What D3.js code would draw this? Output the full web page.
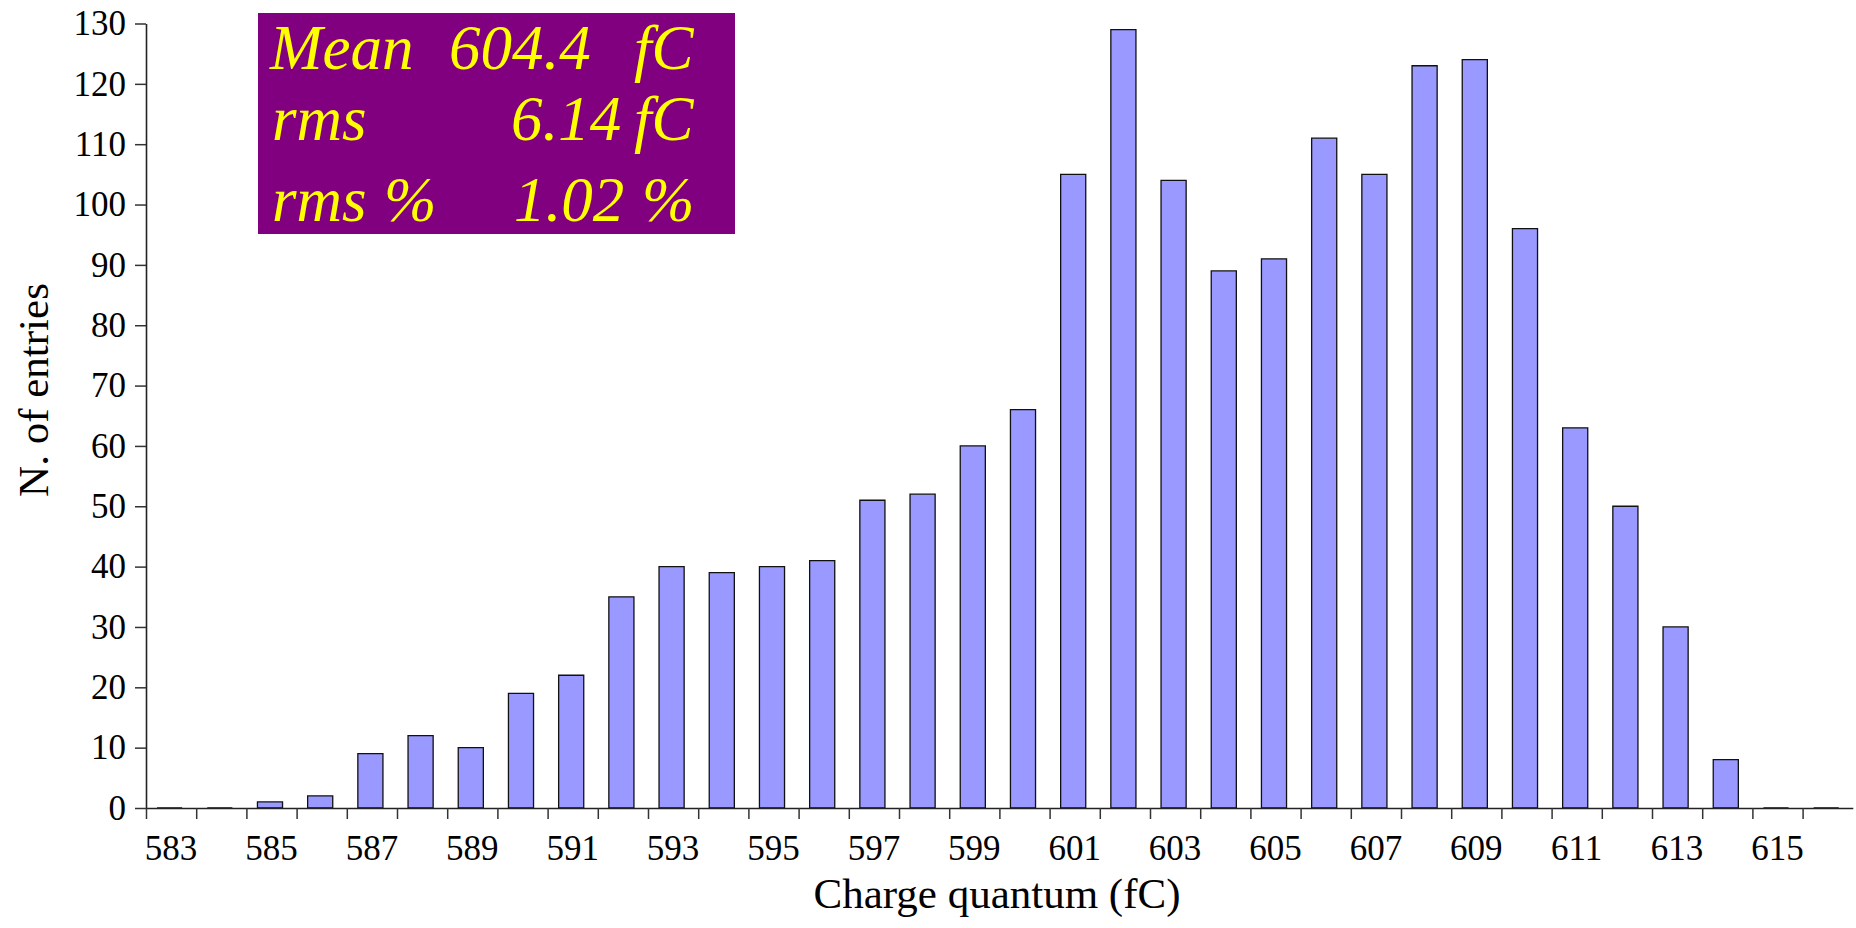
<!DOCTYPE html>
<html>
<head>
<meta charset="utf-8">
<script src="https://cdn.jsdelivr.net/npm/d3@7/dist/d3.min.js"></script>
<style>
  html, body { margin: 0; padding: 0; background: #fff; }
  svg { display: block; }
  text { font-family: "Liberation Serif", "Times New Roman", serif; }
</style>
</head>
<body>
<svg id="chart" width="1856" height="928"></svg>
<script>
// Charge quantum bins (fC) and number of entries per bin
const bins = [583, 584, 585, 586, 587, 588, 589, 590, 591, 592, 593, 594, 595, 596, 597, 598, 599,
              600, 601, 602, 603, 604, 605, 606, 607, 608, 609, 610, 611, 612, 613, 614, 615, 616];
const entries = [0, 0, 1, 2, 9, 12, 10, 19, 22, 35, 40, 39, 40, 41, 51, 52, 60,
                 66, 105, 129, 104, 89, 91, 111, 105, 123, 124, 96, 63, 50, 30, 8, 0, 0];
const xTickLabels = [583, 585, 587, 589, 591, 593, 595, 597, 599, 601, 603, 605, 607, 609, 611, 613, 615];
const yTicks = [0, 10, 20, 30, 40, 50, 60, 70, 80, 90, 100, 110, 120, 130];

// Summary statistics box
const statRows = [
  ["Mean", "604.4", "fC"],
  ["rms", "6.14", "fC"],
  ["rms %", "1.02", "%"]
];

const svg = d3.select("#chart");
const plotLeft = 146, plotRight = 1852.8, plotTop = 23.5, plotBottom = 808;

const x = d3.scaleBand().domain(bins).range([plotLeft, plotRight]).padding(0);
const y = d3.scaleLinear().domain([0, 130]).range([plotBottom, plotTop]);
const bw = x.bandwidth();

// Bars (paths so that empty bins still show their outline on the axis)
svg.append("g").selectAll("path")
  .data(bins.map((b, i) => ({ b, v: entries[i] })))
  .join("path")
  .attr("d", d => {
    const x0 = x(d.b) + bw * 0.22, x1 = x0 + bw * 0.5;
    return `M${x0},${y(0)}V${y(d.v)}H${x1}V${y(0)}Z`;
  })
  .attr("fill", "#9999ff")
  .attr("stroke", "#111")
  .attr("stroke-width", 1.3);

// Y axis
const yAxis = svg.append("g")
  .attr("transform", `translate(${plotLeft},0)`)
  .call(d3.axisLeft(y).tickValues(yTicks).tickSize(11).tickSizeOuter(0).tickPadding(9));
yAxis.selectAll("text").attr("font-size", 35).attr("fill", "#000")
  .attr("font-family", "Liberation Serif, serif");
yAxis.select(".domain").attr("stroke", "#222").attr("stroke-width", 1.6);
yAxis.selectAll(".tick line").attr("stroke", "#333").attr("stroke-width", 1.5);

// X axis: baseline, bin boundary ticks and labels under odd bins
const xEdge = d3.scaleLinear().domain([583, 617]).range([plotLeft, plotRight]);
const xAxisTicks = svg.append("g")
  .attr("transform", `translate(0,${plotBottom})`)
  .call(d3.axisBottom(xEdge).tickValues(d3.range(583, 617)).tickSize(11).tickSizeOuter(0).tickFormat(""));
xAxisTicks.select(".domain").attr("stroke", "#222").attr("stroke-width", 1.6);
xAxisTicks.selectAll(".tick line").attr("stroke", "#333").attr("stroke-width", 1.5);

const xAxisLabels = svg.append("g")
  .attr("transform", `translate(0,${plotBottom})`)
  .call(d3.axisBottom(x).tickValues(xTickLabels).tickSize(0).tickPadding(27));
xAxisLabels.select(".domain").remove();
xAxisLabels.selectAll("text").attr("font-size", 35).attr("fill", "#000")
  .attr("font-family", "Liberation Serif, serif");

// Axis titles
svg.append("text")
  .attr("x", 997).attr("y", 908)
  .attr("text-anchor", "middle")
  .attr("font-size", 43)
  .text("Charge quantum (fC)");

svg.append("text")
  .attr("transform", "translate(48,390) rotate(-90)")
  .attr("text-anchor", "middle")
  .attr("font-size", 43)
  .text("N. of entries");

// Statistics box
const box = svg.append("g");
box.append("rect")
  .attr("x", 258).attr("y", 13).attr("width", 477).attr("height", 221)
  .attr("fill", "#800080");

const rowY = [69, 140, 221];
const colX = [[270, 449, 634], [272, 511, 634], [272, 514, 642]];
statRows.forEach((row, i) => {
  const t = box.append("g").attr("fill", "#ffff00")
    .attr("font-size", 63).attr("font-style", "italic");
  if (i === 2) {
    t.append("text").attr("x", colX[i][0]).attr("y", rowY[i]).text("rms");
    t.append("text").attr("x", 384).attr("y", rowY[i]).text("%");
  } else {
    t.append("text").attr("x", colX[i][0]).attr("y", rowY[i]).text(row[0]);
  }
  t.append("text").attr("x", colX[i][1]).attr("y", rowY[i]).text(row[1]);
  t.append("text").attr("x", colX[i][2]).attr("y", rowY[i]).text(row[2]);
});
</script>
</body>
</html>
